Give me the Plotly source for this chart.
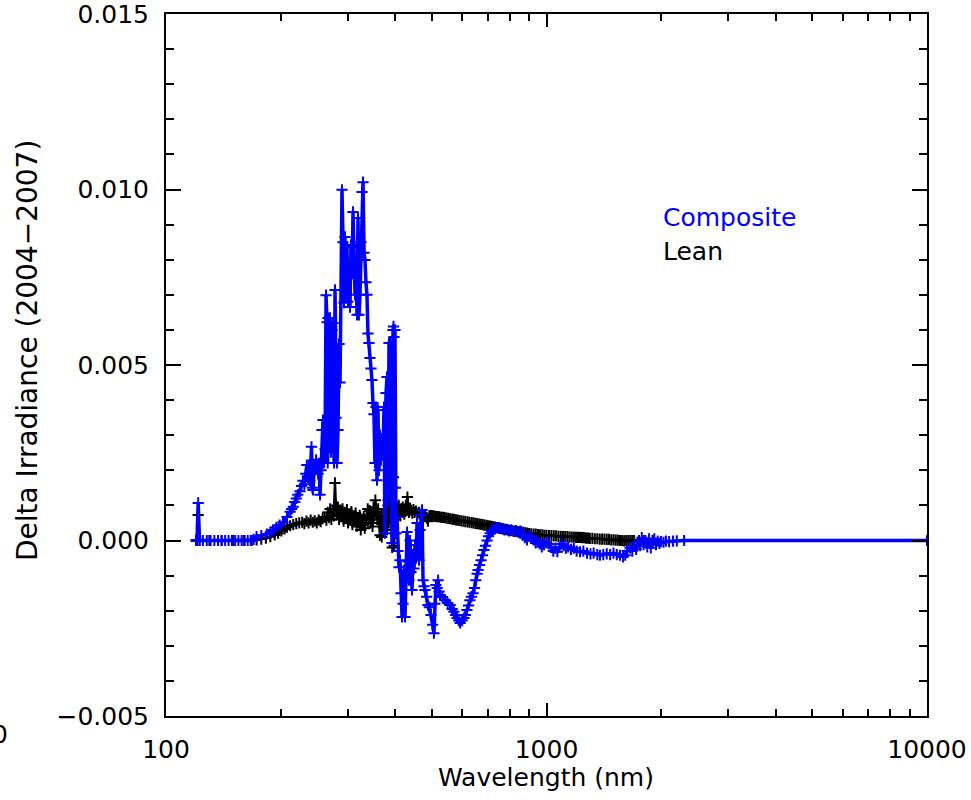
import plotly.graph_objects as go

# ---------------- data ----------------
composite_wl = [
    120.0, 120.6, 121.5, 122.5, 125, 128, 131, 134, 137, 140, 143, 146, 149,
    152, 155, 158, 161, 164, 167,
    170, 173, 178, 184, 188, 191, 195, 199, 203, 208, 212, 214, 216, 218, 220,
    222, 225, 227, 229, 231, 233, 234.5, 236, 237.5, 239, 240, 241.2, 242.5,
    243.5, 245, 246.5, 248, 249.5, 251, 252.5, 254, 255.5, 257.1, 258.6, 260.2,
    261.8, 263.4, 265.0, 266.0, 266.6, 268.2, 269.8, 271.5, 273.1, 274.8, 276.5,
    278.1, 279.8, 281.5, 283.2, 285.0, 286.7, 288.4, 290.1, 291.9, 293.6, 295.4,
    297.2, 299.0, 300.8, 302.6, 304.5, 306.3, 308.2, 310.1, 312.0, 313.9, 315.8,
    317.7, 319.6, 321.6, 323.5, 325.5, 327.5, 329.5, 331.5, 333.4, 335.4, 337.4,
    339.5, 341.5, 343.6, 345.7, 347.8, 349.9, 352.0, 354.1, 356.3, 358.5, 360.7,
    362.9, 365.1, 367.3, 369.5, 371.8, 374.0, 376.3, 378.6, 380.9, 383.2, 385.5,
    387.9, 390.2, 392.6, 395.0, 396.2, 397.4, 398.6, 399.8, 401.0, 402.2, 404.7,
    407.1, 409.6, 412.1, 414.6, 417.2, 419.7, 422.3, 424.8, 427.4, 430.0, 432.6,
    435.2, 437.9, 440.5, 443.2, 445.9, 448.6, 451.3, 454.0, 456.8, 459.6, 462.4,
    465.2, 468.0, 470.9, 473.7, 476.6, 479.5, 484, 488, 492, 497, 502, 506, 509,
    512, 516, 519, 522, 525, 533, 541, 550, 558, 565, 571, 577, 582, 588, 593,
    600, 607, 612, 618, 624, 629, 635, 641, 647, 652, 657, 661, 667, 673, 679,
    685, 691, 698, 704, 711, 718, 724, 732, 741, 752, 764, 775, 786, 797, 808,
    820, 832, 844, 855, 866, 877, 889, 900, 912, 924, 936, 948, 960, 972, 985,
    1000, 1014, 1028, 1042, 1055, 1068, 1082, 1096, 1110, 1125, 1140, 1160, 1180,
    1200, 1225, 1250, 1278, 1305, 1330, 1360, 1382, 1410, 1440, 1470, 1500, 1530,
    1560, 1589, 1610, 1630, 1658, 1680, 1700, 1720, 1740, 1761, 1780, 1800, 1820,
    1840, 1860, 1880, 1900, 1920, 1940, 1960, 1980, 2000, 2030, 2060, 2100, 2150,
    2200, 2300, 10000,
]
composite_val = [
    0.0, 0.0, 0.00107, 0.0, 0.0, 0.0, 0.0, 0.0, 0.0, 0.0, 0.0, 0.0, 0.0,
    0.0, 0.0, 0.0, 0.0, 0.0, 0.0,
    0.00003, 0.00011, 0.00014, 0.00018, 0.00024, 0.00030, 0.00037, 0.00044,
    0.00052, 0.00067, 0.00082, 0.00090, 0.00096, 0.00110, 0.00120, 0.00130,
    0.00140, 0.00155, 0.00170, 0.00160, 0.00190, 0.00215, 0.00180, 0.00215,
    0.00170, 0.00200, 0.00267, 0.00150, 0.00144, 0.00215, 0.00200, 0.00230,
    0.00210, 0.00190, 0.00220, 0.00130, 0.00200, 0.00315, 0.00343, 0.00221,
    0.00260, 0.00699, 0.00622, 0.00221, 0.00634, 0.00300, 0.00634, 0.00252,
    0.00600, 0.00620, 0.00221, 0.00714, 0.00350, 0.00221, 0.00315, 0.00560,
    0.00450, 0.00714, 0.00999, 0.00850, 0.00677, 0.00865, 0.00700, 0.00836,
    0.00680, 0.00780, 0.00665, 0.00842, 0.00760, 0.00936, 0.00836, 0.00700,
    0.00780, 0.00643, 0.00919, 0.00643, 0.00700, 0.00850, 0.00993, 0.01021,
    0.00820, 0.00799, 0.00736, 0.00700, 0.00590, 0.00563, 0.00520, 0.00490,
    0.00457, 0.00392, 0.00360, 0.00221, 0.00380, 0.00172, 0.00372, 0.00200,
    0.00300, 0.00229, 0.00290, 0.00249, 0.00380, 0.00021, 0.00420, 0.00466,
    0.00115, 0.00563, 0.00563, 0.00300, -0.00007, 0.00600, 0.00610, 0.00580,
    0.00021, 0.00600, 0.00150, 0.00021, 0.00067, -0.00030, -0.00076, -0.00056,
    -0.00150, -0.00218, -0.00180, -0.00084, -0.00218, -0.00120, 0.00024,
    -0.00060, -0.00113, 0.00000, -0.00090, -0.00141, -0.00040, -0.00080,
    -0.00013, -0.00050, 0.00050, -0.00030, -0.00056, 0.00030, 0.00073, 0.00087,
    -0.00113, -0.00130, -0.00141, -0.00160, -0.00184, -0.00190, -0.00212,
    -0.00240, -0.00264, -0.00180, -0.00127, -0.00135, -0.00113, -0.00145,
    -0.00155, -0.00161, -0.00170, -0.00178, -0.00184, -0.00195, -0.00203,
    -0.00212, -0.00221, -0.00228, -0.00235, -0.00228, -0.00221, -0.00212,
    -0.00198, -0.00185, -0.00170, -0.00160, -0.00150, -0.00135, -0.00113,
    -0.00095, -0.00084, -0.00070, -0.00056, -0.00042, -0.00027, -0.00015,
    0.00000, 0.00012, 0.00021, 0.00027, 0.00030, 0.00033, 0.00036, 0.00036,
    0.00034, 0.00030, 0.00032, 0.00027, 0.00030, 0.00026, 0.00028, 0.00024,
    0.00027, 0.00018, 0.00008, 0.00002, 0.00012, 0.00010, 0.00002, -0.00007,
    0.00000, -0.00010, -0.00018, -0.00012, -0.00005, -0.00010, -0.00020,
    -0.00030, -0.00022, -0.00032, -0.00020, -0.00010, -0.00015, -0.00022,
    -0.00018, -0.00025, -0.00022, -0.00030, -0.00032, -0.00030, -0.00036,
    -0.00038, -0.00036, -0.00040, -0.00042, -0.00040, -0.00038, -0.00040,
    -0.00036, -0.00040, -0.00042, -0.00047, -0.00042, -0.00030, -0.00021,
    -0.00030, -0.00015, -0.00025, -0.00005, -0.00015, 0.00008, -0.00012,
    0.00000, -0.00018, 0.00005, -0.00021, -0.00008, 0.00005, -0.00012,
    -0.00002, -0.00008, -0.00003, -0.00005, -0.00002, -0.00003, -0.00002,
    -0.00001, 0.0, 0.0,
]

lean_wl = [
    120.0, 120.6, 121.5, 122.5, 130, 140, 150, 160, 168, 173, 178, 183, 188,
    193, 197, 201, 205, 208, 212, 216, 220, 224, 228, 231, 234, 237, 240, 243,
    246, 249, 252, 255, 258, 261, 264, 266, 268, 270, 272, 274, 276, 278, 279.5,
    281, 283, 285, 287, 289, 291, 293, 295, 297, 299, 301, 303, 305, 307, 309,
    311, 313, 315, 317, 319, 321, 323, 325, 327, 329, 331, 333, 335, 337, 339,
    341, 343, 345, 347, 349, 351, 353, 355, 357, 359, 361, 363, 365, 367, 369,
    371, 373, 375, 377, 379, 381, 383, 385, 387, 388.5, 390, 391.5, 393, 394.5,
    396, 397.5, 399, 401, 403, 405, 407, 409, 411, 413, 415, 417, 419, 421, 423,
    425, 427, 429, 431, 433, 435, 438, 441, 444, 447, 450, 454, 458, 462, 466,
    470, 475, 480, 485, 488, 492, 496, 500, 505, 510, 515, 520, 525, 530, 535,
    540, 546, 552, 558, 565, 571, 578, 584, 590, 597, 605, 612, 620, 627, 635,
    642, 650, 657, 665, 672, 680, 687, 695, 702, 710, 718, 725, 732, 740, 748,
    755, 762, 770, 778, 785, 792, 800, 810, 820, 830, 840, 850, 860, 870, 880,
    890, 900, 912, 925, 937, 950, 962, 975, 987, 1000, 1015, 1030, 1045, 1060,
    1075, 1090, 1105, 1120, 1135, 1150, 1165, 1180, 1195, 1210, 1225, 1240,
    1255, 1270, 1285, 1300, 1320, 1340, 1360, 1380, 1400, 1420, 1440, 1460,
    1480, 1500, 1520, 1540, 1560, 1580, 1600, 1620, 1640, 1660, 1680, 1700,
    1750, 1800, 1900, 2000, 2200, 2500, 3000, 10000,
]
lean_val = [
    0.0, 0.0, 0.00073, 0.0, 0.0, 0.0, 0.0, 0.0, 0.0, 0.00002, 0.00004, 0.00007,
    0.00011, 0.00016, 0.00021, 0.00027, 0.00033, 0.00038, 0.00042, 0.00045,
    0.00048, 0.00050, 0.00052, 0.00048, 0.00055, 0.00050, 0.00058, 0.00052,
    0.00056, 0.00050, 0.00058, 0.00054, 0.00062, 0.00067, 0.00058, 0.00080,
    0.00065, 0.00090, 0.00060, 0.00085, 0.00070, 0.00164, 0.00100, 0.00075,
    0.00095, 0.00060, 0.00085, 0.00070, 0.00090, 0.00055, 0.00080, 0.00065,
    0.00088, 0.00050, 0.00075, 0.00060, 0.00082, 0.00045, 0.00070, 0.00055,
    0.00078, 0.00040, 0.00065, 0.00050, 0.00072, 0.00030, 0.00060, 0.00045,
    0.00068, 0.00035, 0.00058, 0.00070, 0.00090, 0.00060, 0.00085, 0.00050,
    0.00080, 0.00040, 0.00095, 0.00070, 0.00115, 0.00080, 0.00060, 0.00090,
    0.00050, 0.00015, 0.00070, 0.00010, 0.00060, 0.00040, 0.00080, 0.00055,
    0.00085, 0.00030, 0.00100, 0.00050, 0.00220, 0.00200, 0.00220, 0.00080,
    -0.00020, 0.00150, 0.00180, -0.00015, 0.00060, 0.00090, 0.00075, 0.00095,
    0.00080, 0.00100, 0.00085, 0.00070, 0.00090, 0.00080, 0.00095, 0.00085,
    0.00075, 0.00090, 0.00100, 0.00085, 0.00124, 0.00090, 0.00080, 0.00092,
    0.00085, 0.00078, 0.00088, 0.00080, 0.00084, 0.00076, 0.00080, 0.00074,
    0.00078, 0.00072, 0.00072, 0.00064, 0.00055, 0.00070, 0.00071, 0.00070,
    0.00070, 0.00069, 0.00068, 0.00068, 0.00067, 0.00066, 0.00066, 0.00065,
    0.00064, 0.00063, 0.00062, 0.00061, 0.00060, 0.00059, 0.00058, 0.00057,
    0.00056, 0.00055, 0.00054, 0.00053, 0.00052, 0.00051, 0.00050, 0.00049,
    0.00048, 0.00047, 0.00046, 0.00045, 0.00044, 0.00043, 0.00042, 0.00041,
    0.00040, 0.00039, 0.00038, 0.00037, 0.00036, 0.00035, 0.00034, 0.00033,
    0.00032, 0.00031, 0.00030, 0.00029, 0.00028, 0.00027, 0.00026, 0.00025,
    0.00025, 0.00024, 0.00023, 0.00022, 0.00021, 0.00020, 0.00019, 0.00018,
    0.00018, 0.00017, 0.00016, 0.00016, 0.00015, 0.00015, 0.00014, 0.00014,
    0.00013, 0.00013, 0.00012, 0.00012, 0.00011, 0.00011, 0.00011, 0.00010,
    0.00010, 0.00010, 0.00009, 0.00009, 0.00009, 0.00008, 0.00008, 0.00007,
    0.00007, 0.00006, 0.00006, 0.00005, 0.00005, 0.00004, 0.00004, 0.00004,
    0.00003, 0.00003, 0.00002, 0.00002, 0.00001, 0.00001, 0.0, 0.0, -0.00001,
    0.0, 0.0, 0.0, 0.0, 0.0, 0.0, 0.0, 0.0,
]

x_tick_vals = [100, 1000, 10000]
x_tick_text = ["100", "1000", "10000"]
y_tick_vals = [-0.005, 0.0, 0.005, 0.010, 0.015]
y_tick_text = ["\u22120.005", "0.000", "0.005", "0.010", "0.015"]

FONT = "DejaVu Sans"
BLUE = "#0000ff"

fig = go.Figure()
fig.add_trace(go.Scatter(
    x=lean_wl, y=lean_val, mode="lines+markers", name="Lean",
    line=dict(color="black", width=2.5),
    marker=dict(symbol="cross-thin", size=8, line=dict(color="black", width=2)),
))
fig.add_trace(go.Scatter(
    x=composite_wl, y=composite_val, mode="lines+markers", name="Composite",
    line=dict(color=BLUE, width=3.5),
    marker=dict(symbol="cross-thin", size=8, line=dict(color=BLUE, width=2)),
))

x_minor = [200, 300, 400, 500, 600, 700, 800, 900,
           2000, 3000, 4000, 5000, 6000, 7000, 8000, 9000]
y_minor = [v / 1000 for v in range(-5, 16)]

fig.update_layout(
    width=971, height=800,
    margin=dict(l=166, r=44, t=14, b=84, autoexpand=False),
    paper_bgcolor="white", plot_bgcolor="white",
    showlegend=False,
    font=dict(family=FONT, size=25, color="black"),
    xaxis=dict(
        type="log", range=[2, 4], automargin=False,
        showline=True, linecolor="black", linewidth=2, mirror="allticks",
        ticks="inside", ticklen=13, tickwidth=1.5, tickcolor="black",
        tickmode="array", tickvals=x_tick_vals, ticktext=x_tick_text,
        tickfont=dict(family=FONT, size=25, color="black"),
        ticklabelstandoff=10, ticklabeloverflow="allow",
        showgrid=False, zeroline=False,
        minor=dict(tickmode="array", tickvals=x_minor, ticks="inside",
                   ticklen=7, tickwidth=1.5, tickcolor="black", showgrid=False),
    ),
    yaxis=dict(
        range=[-0.005, 0.015], automargin=False,
        showline=True, linecolor="black", linewidth=2, mirror="allticks",
        ticks="inside", ticklen=15, tickwidth=1.5, tickcolor="black",
        tickmode="array", tickvals=y_tick_vals, ticktext=y_tick_text,
        tickfont=dict(family=FONT, size=25, color="black"),
        ticklabelstandoff=10, ticklabeloverflow="allow",
        showgrid=False, zeroline=False,
        minor=dict(tickmode="array", tickvals=y_minor, ticks="inside",
                   ticklen=8, tickwidth=1.5, tickcolor="black", showgrid=False),
    ),
)

ann = [
    dict(text="Wavelength (nm)", x=0.4987, y=-0.0883, xref="paper", yref="paper",
         xanchor="center", yanchor="middle", showarrow=False,
         font=dict(family=FONT, size=25, color="black")),
    dict(text="Delta Irradiance (2004\u22122007)", x=-0.1813, y=0.52,
         xref="paper", yref="paper", textangle=-90,
         xanchor="center", yanchor="middle", showarrow=False,
         font=dict(family=FONT, size=28, color="black")),
    dict(text="Composite", x=0.6505, y=0.7108, xref="paper", yref="paper",
         xanchor="left", yanchor="middle", showarrow=False,
         font=dict(family=FONT, size=25, color=BLUE)),
    dict(text="Lean", x=0.6505, y=0.661, xref="paper", yref="paper",
         xanchor="left", yanchor="middle", showarrow=False,
         font=dict(family=FONT, size=25, color="black")),
    dict(text="0", x=-0.2181, y=-0.027, xref="paper", yref="paper",
         xanchor="center", yanchor="middle", showarrow=False,
         font=dict(family=FONT, size=25, color="black")),
]
fig.update_layout(annotations=ann)

fig.write_html("out.html")
